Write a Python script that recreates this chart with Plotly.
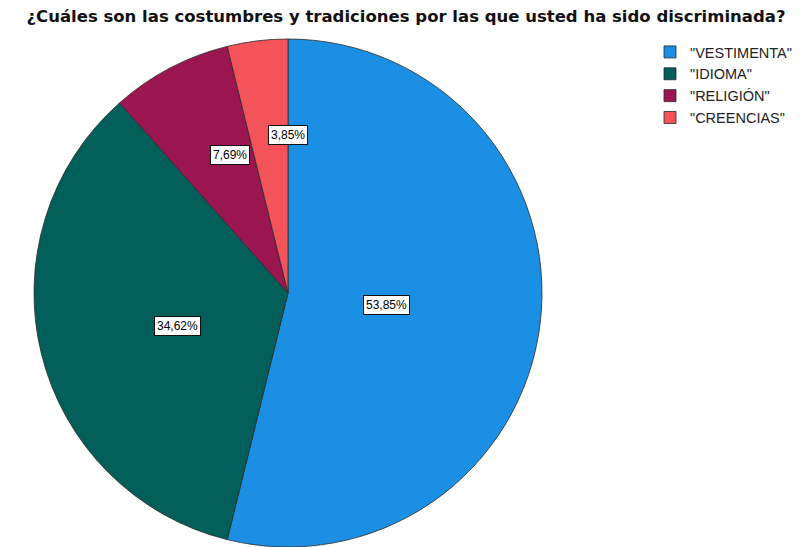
import math
import plotly.graph_objects as go

labels = ['"VESTIMENTA"', '"IDIOMA"', '"RELIGIÓN"', '"CREENCIAS"']
counts = [14, 9, 2, 1]
colors = ["#1a8fe3", "#025e59", "#9b1650", "#f4535a"]
title = "¿Cuáles son las costumbres y tradiciones por las que usted ha sido discriminada?"

OFF = 8                      # browser body margin
PW, PH = 801, 547            # page size
W, H = PW - OFF, PH - OFF    # figure size
cx, cy, R = 288 - OFF, 293 - OFF, 254  # pie center/radius in figure pixels

fig = go.Figure(go.Pie(
    labels=labels, values=counts, sort=False, direction="clockwise", rotation=0,
    marker=dict(colors=colors, line=dict(color="#2a2a2a", width=0.8)),
    textinfo="none", hoverinfo="label+percent",
    domain=dict(x=[(cx - R) / W, (cx + R) / W], y=[max(0, (H - cy - R) / H), (H - cy + R) / H]),
))

total = sum(counts)
acc = 0
for v in counts:
    share = v / total
    a = share * math.pi          # half angle of sector
    mid = (acc + share / 2) * 2 * math.pi
    acc += share
    d = R * 2 * math.sin(a) / (3 * a)   # sector centroid distance
    px = cx + d * math.sin(mid)
    py = cy - d * math.cos(mid)
    fig.add_annotation(
        x=px / W, y=1 - py / H, xref="paper", yref="paper", showarrow=False,
        text=f"{share*100:.2f}%".replace(".", ","),
        font=dict(family="Liberation Sans, Arial", size=12, color="#000"),
        bgcolor="white", bordercolor="#111", borderwidth=1, borderpad=2,
    )

fig.update_layout(
    width=W, height=H,
    margin=dict(l=0, r=0, t=0, b=0),
    paper_bgcolor="white", plot_bgcolor="white",
    title=dict(text=f"<b>{title}</b>", x=(406 - OFF) / W, xanchor="center", y=1 - (16 - OFF) / H,
               yanchor="middle",
               font=dict(family="DejaVu Sans", size=16.5, color="#111")),
    legend=dict(x=(650 - OFF) / W, y=1 - (36 - OFF) / H, xanchor="left", yanchor="top",
                font=dict(family="Liberation Sans, Arial", size=14.5, color="#222"),
                tracegroupgap=0, itemwidth=30, bgcolor="rgba(0,0,0,0)"),
    showlegend=True,
)

fig.write_html("out.html")
